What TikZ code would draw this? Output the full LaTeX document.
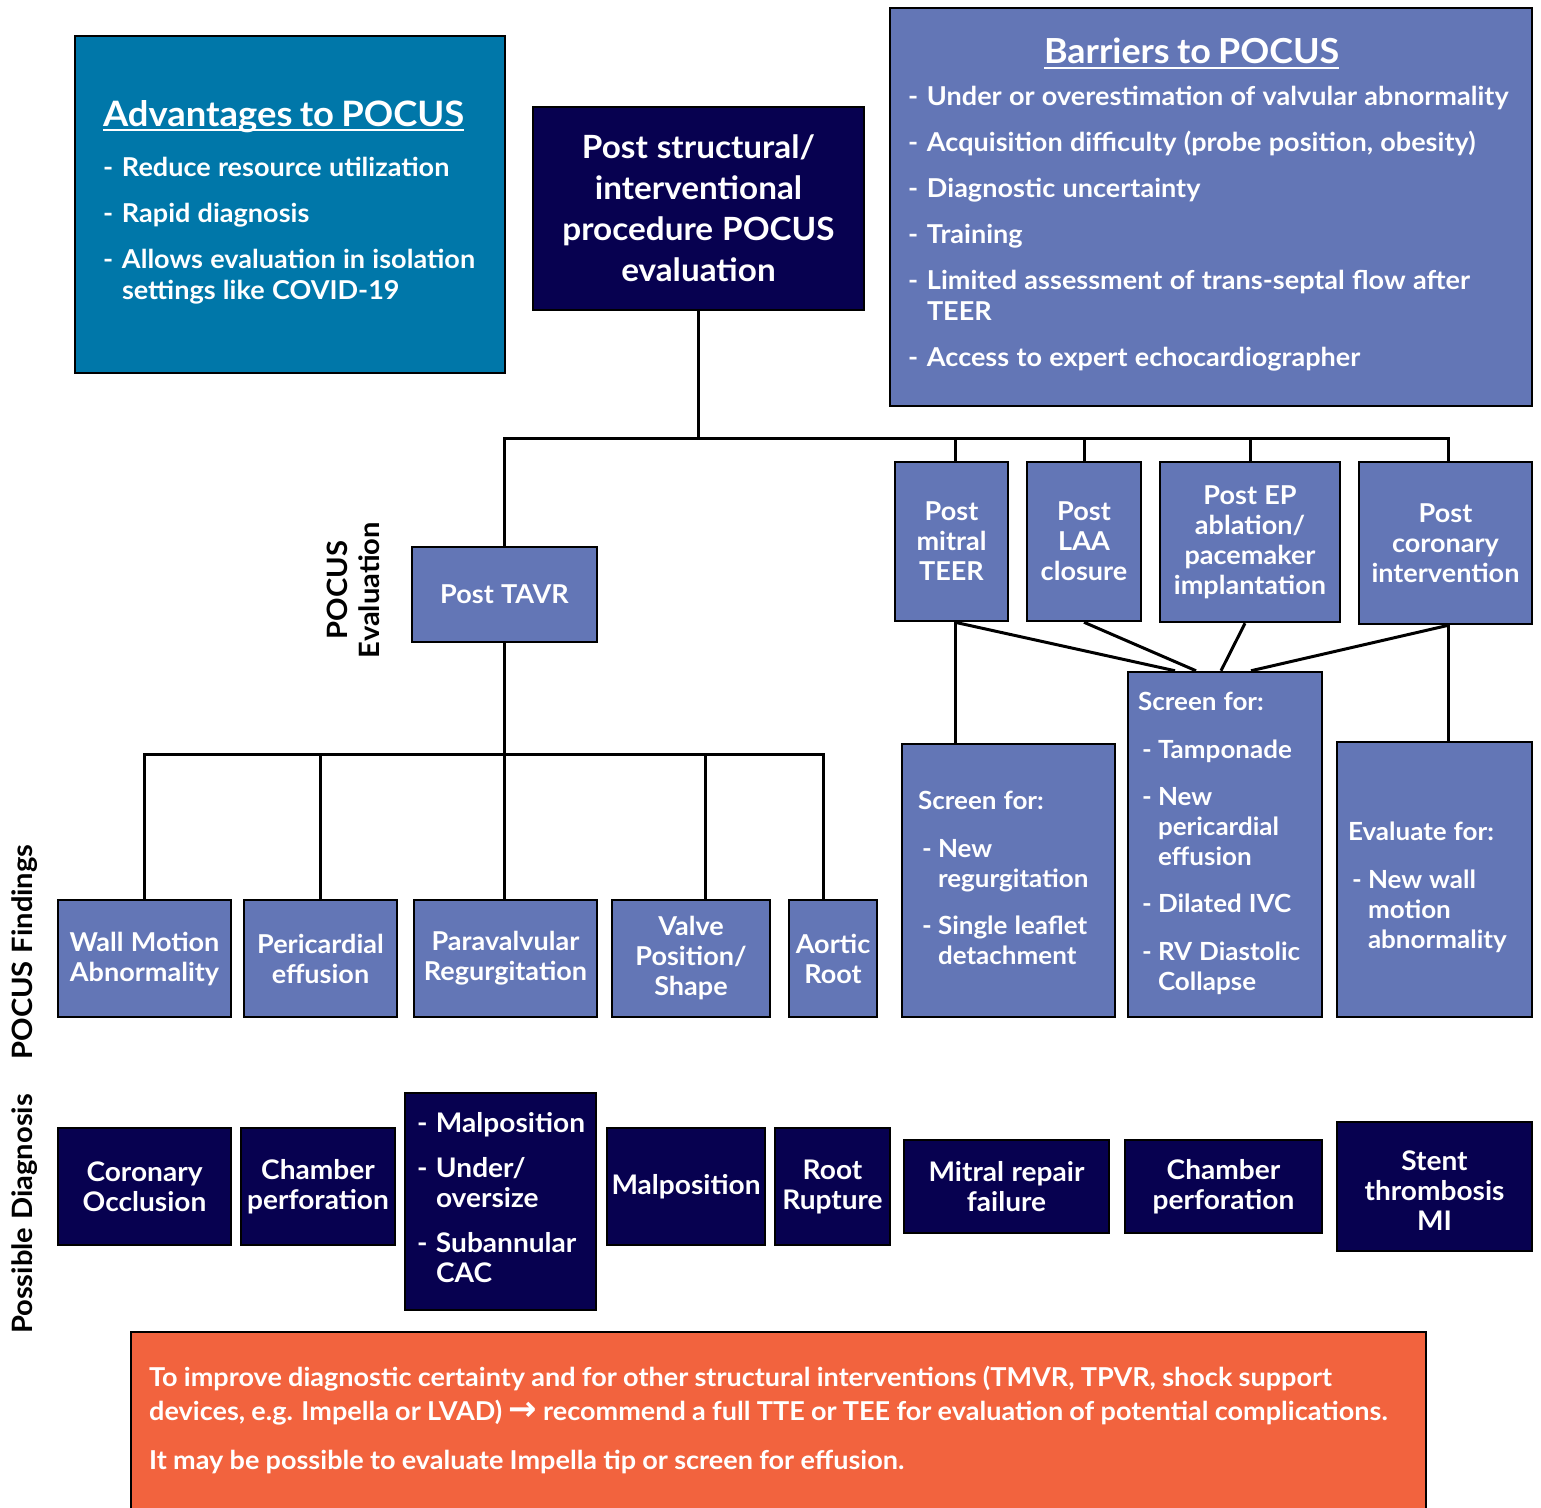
\documentclass[tikz,border=0pt]{standalone}
\usepackage{fontspec}
\setmainfont{Lato}[FakeStretch=1.04]
\newfontfamily\djv{DejaVu Sans}
\definecolor{advblue}{HTML}{0077A9}
\definecolor{midblue}{HTML}{6376B6}
\definecolor{navyb}{HTML}{070150}
\definecolor{orng}{HTML}{F2633E}
\newcommand\thul[1]{\setbox0\hbox{#1}\rlap{\rule[-5pt]{\wd0}{2pt}}\box0}
\newcommand\dsh{\makebox[19pt][l]{-}}
\newcommand\cont{\hspace*{19pt}}
\newcommand\dshb{\hspace*{4pt}\makebox[16pt][l]{-}}
\newcommand\contb{\hspace*{20pt}}
\newcommand\wsp{\spaceskip=0.28em plus 0.1em minus 0.05em\relax}
\newcommand\wspb{\spaceskip=0.24em plus 0.1em minus 0.05em\relax}
\begin{document}
\begin{tikzpicture}[x=1pt,y=-1pt,
  box/.style={draw=black, line width=2.5pt, inner sep=0pt, text=white, font=\bfseries},
  lb/.style={box, fill=midblue, align=center, font=\bfseries\fontsize{26}{30}\selectfont\wsp},
  db/.style={box, fill=navyb, align=center, font=\bfseries\fontsize{27}{30}\selectfont\wsp},
  lab/.style={font=\bfseries\fontsize{28}{32}\selectfont\wsp, rotate=90, align=center, inner sep=0pt},
  conn/.style={line width=3pt, draw=black}]
\useasboundingbox (0,0) rectangle (1541,1507);

% top boxes
\node[box, fill=advblue, minimum width=430pt, minimum height=337pt, text width=374pt, align=left] (adv) at (290,204.5)
{\fontsize{26}{31}\selectfont\wsp\begin{tabular}{@{}l@{}}
{\fontsize{35}{35}\selectfont\thul{Advantages to POCUS}}\\[19pt]
\dsh Reduce resource utilization\\[15pt]
\dsh Rapid diagnosis\\[15pt]
\dsh Allows evaluation in isolation\\
\cont settings like COVID-19
\end{tabular}};

\node[box, fill=navyb, minimum width=331pt, minimum height=203pt, align=center, font=\bfseries\fontsize{32}{41}\selectfont\wsp] (cent) at (698.5,208.5)
{Post structural/\\interventional\\procedure POCUS\\evaluation};

\node[box, fill=midblue, minimum width=642pt, minimum height=398pt, text width=606pt, align=left] (bar) at (1211,207)
{\fontsize{26}{31}\selectfont\wsp\begin{tabular}{@{}l@{}}
\hspace*{136pt}{\fontsize{34.5}{35}\selectfont\thul{Barriers to POCUS}}\\[11pt]
\dsh Under or overestimation of valvular abnormality\\[15pt]
\dsh Acquisition difficulty (probe position, obesity)\\[15pt]
\dsh Diagnostic uncertainty\\[15pt]
\dsh Training\\[15pt]
\dsh Limited assessment of trans-septal flow after\\
\cont TEER\\[15pt]
\dsh Access to expert echocardiographer
\end{tabular}};

% evaluation level
\node[lb, minimum width=185pt, minimum height=95pt] (tavr) at (504.5,594.5) {Post TAVR};
\node[lb, minimum width=113pt, minimum height=159pt] (mitral) at (951.5,541.5) {Post\\mitral\\TEER};
\node[lb, minimum width=114pt, minimum height=159pt] (laa) at (1084,541.5) {Post\\LAA\\closure};
\node[lb, minimum width=180pt, minimum height=160pt] (ep) at (1250,542) {Post EP\\ablation/\\pacemaker\\implantation};
\node[lb, minimum width=173pt, minimum height=162pt] (coron) at (1445.5,543) {Post\\coronary\\intervention};

% findings
\node[lb, minimum width=173pt, minimum height=117pt] (wma) at (144.5,958.5) {Wall Motion\\Abnormality};
\node[lb, minimum width=153pt, minimum height=117pt] (peri) at (320.5,958.5) {Pericardial\\effusion};
\node[lb, minimum width=183pt, minimum height=117pt] (pvr) at (505.5,958.5) {Paravalvular\\Regurgitation};
\node[lb, minimum width=158pt, minimum height=117pt] (vps) at (691,958.5) {Valve\\Position/\\Shape};
\node[lb, minimum width=88pt, minimum height=117pt] (aor) at (833,958.5) {Aortic\\Root};

\node[box, fill=midblue, minimum width=213pt, minimum height=273pt, text width=181pt, align=left] (scr1) at (1008.5,880.5)
{\fontsize{25}{30}\selectfont\wsp\begin{tabular}{@{}l@{}}
Screen for:\\[18pt]
\dshb New\\
\contb regurgitation\\[17pt]
\dshb Single leaflet\\
\contb detachment
\end{tabular}};

\node[box, fill=midblue, minimum width=194pt, minimum height=345pt, text width=174pt, align=left] (scr2) at (1225,844.5)
{\fontsize{25}{30}\selectfont\wsp\begin{tabular}{@{}l@{}}
Screen for:\\[18pt]
\dshb Tamponade\\[17pt]
\dshb New\\
\contb pericardial\\
\contb effusion\\[17pt]
\dshb Dilated IVC\\[18pt]
\dshb RV Diastolic\\
\contb Collapse
\end{tabular}};

\node[box, fill=midblue, minimum width=195pt, minimum height=275pt, text width=173pt, align=left] (eval) at (1434.5,879.5)
{\fontsize{25}{30}\selectfont\wsp\begin{tabular}{@{}l@{}}
\rule{0pt}{38pt}Evaluate for:\\[18pt]
\dshb New wall\\
\contb motion\\
\contb abnormality
\end{tabular}};

% diagnosis
\node[db, minimum width=173pt, minimum height=117pt] (dg1) at (144.5,1186.5) {Coronary\\Occlusion};
\node[db, minimum width=154pt, minimum height=117pt] (dg2) at (318,1186.5) {Chamber\\perforation};
\node[box, fill=navyb, minimum width=191pt, minimum height=217pt, text width=167pt, align=left] (dg3) at (500.5,1201.5)
{\fontsize{27}{30}\selectfont\wsp\begin{tabular}{@{}l@{}}
\dsh Malposition\\[15pt]
\dsh Under/\\
\cont oversize\\[15pt]
\dsh Subannular\\
\cont CAC
\end{tabular}};
\node[db, minimum width=158pt, minimum height=117pt] (dg4) at (686,1186.5) {Malposition};
\node[db, minimum width=115pt, minimum height=117pt] (dg5) at (832.5,1186.5) {Root\\Rupture};
\node[db, minimum width=205pt, minimum height=93pt] (dg6) at (1006.5,1186.5) {Mitral repair\\failure};
\node[db, minimum width=197pt, minimum height=93pt] (dg7) at (1223.5,1186.5) {Chamber\\perforation};
\node[db, minimum width=195pt, minimum height=129pt] (dg8) at (1434.5,1186.5) {\rule{0pt}{28pt}Stent\\thrombosis\\MI};

% side labels
\node[lab] (lev) at (353,590) {POCUS\\Evaluation};
\node[lab] (lfind) at (25,952) {POCUS Findings};
\node[lab] (ldiag) at (25,1214) {Possible Diagnosis};

% note
\node[draw=black, line width=2.5pt, fill=orng, minimum width=1295pt, minimum height=208pt, inner sep=0pt] (note) at (778.5,1436) {};
\node[anchor=north west, text=white, font=\bfseries\fontsize{26}{34}\selectfont\wspb, align=left, inner sep=0pt] (notetxt) at (149,1366)
{To improve diagnostic certainty and for other structural interventions (TMVR, TPVR, shock support\\
devices, e.g. Impella or LVAD) {\djv\fontsize{34}{34}\selectfont →} recommend a full TTE or TEE for evaluation of potential complications.\\[15pt]
It may be possible to evaluate Impella tip or screen for effusion.};

% connectors
\coordinate (hub) at (698.5,438);
\coordinate (hub2) at (505.5,754);
\draw[conn] (cent.south) -- (hub);
\draw[conn] (tavr.north) |- (hub) -| ([xshift=3pt]coron.north);
\draw[conn] ([xshift=3.5pt]mitral.north) -- ([xshift=3.5pt]mitral.north |- hub);
\draw[conn] (laa.north) -- (laa.north |- hub);
\draw[conn] (ep.north) -- (ep.north |- hub);
\draw[conn] (tavr.south) -- (tavr.south |- pvr.north);
\draw[conn] (wma.north) |- (hub2) -| ([xshift=-10pt]aor.north);
\draw[conn] (peri.north) -- (peri.north |- hub2);
\draw[conn] ([xshift=14pt]vps.north) -- ([xshift=14pt]vps.north |- hub2);
\draw[conn] ([xshift=3.5pt]mitral.south) -- ([xshift=3.5pt]mitral.south |- scr1.north);
\draw[conn] ([xshift=3.5pt]mitral.south) -- ([xshift=-50pt]scr2.north);
\draw[conn] (laa.south) -- ([xshift=-29pt]scr2.north);
\draw[conn] ([xshift=-5pt]ep.south) -- ([xshift=-4pt]scr2.north);
\draw[conn] ([xshift=3pt]coron.south) -- ([xshift=26pt]scr2.north);
\draw[conn] ([xshift=3pt]coron.south) -- ([xshift=3pt]coron.south |- eval.north);
\end{tikzpicture}
\end{document}
